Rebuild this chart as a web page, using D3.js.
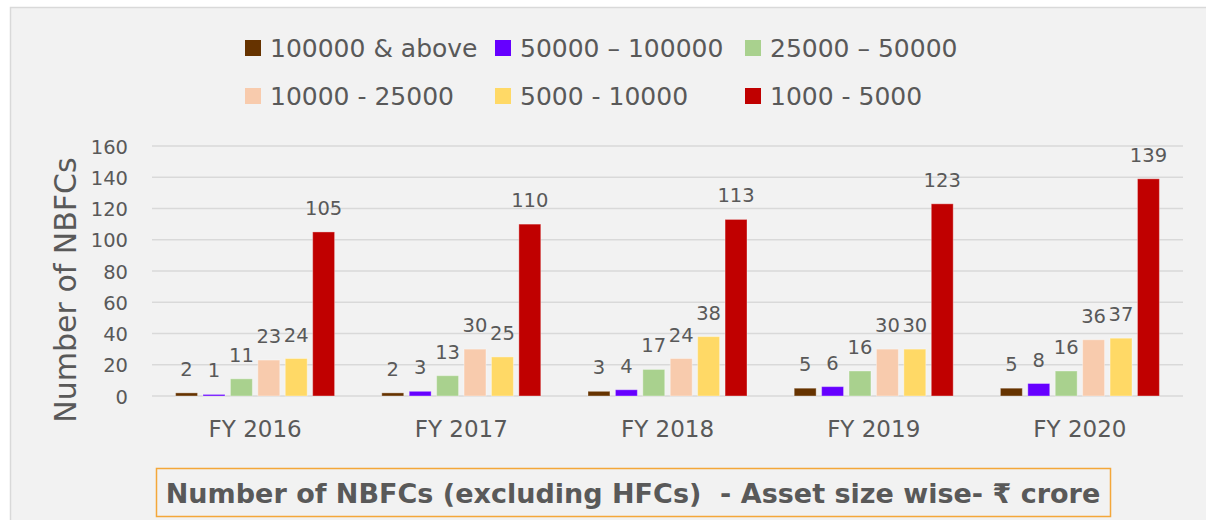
<!DOCTYPE html>
<html><head><meta charset="utf-8">
<script src="https://cdn.jsdelivr.net/npm/d3@7"></script>
<style>
html,body{margin:0;padding:0;background:#fff;}
svg{display:block;}
</style></head>
<body>
<svg id="chart" width="1206" height="520"></svg>
<script>
const categories = ["FY 2016","FY 2017","FY 2018","FY 2019","FY 2020"];
const seriesNames = ["100000 & above","50000 \u2013 100000","25000 \u2013 50000","10000 - 25000","5000 - 10000","1000 - 5000"];
const s100000above = [2,2,3,5,5];
const s50000_100000 = [1,3,4,6,8];
const s25000_50000 = [11,13,17,16,16];
const s10000_25000 = [23,30,24,30,36];
const s5000_10000 = [24,25,38,30,37];
const s1000_5000 = [105,110,113,123,139];
const yTicks = [0,20,40,60,80,100,120,140,160];
const colors = ["#663300","#6600ff","#a9d18e","#f8cbad","#ffd966","#c00000"];
const titleText = "Number of NBFCs (excluding HFCs)  - Asset size wise- \u20b9 crore";
const yTitle = "Number of NBFCs";

const seriesValues = [s100000above,s50000_100000,s25000_50000,s10000_25000,s5000_10000,s1000_5000];
const FONT = "'DejaVu Sans', sans-serif";
const TXT = "#595959";

const svg = d3.select("#chart");
// panel
svg.append("rect").attr("x",10.5).attr("y",7.5).attr("width",1220).attr("height",530)
  .attr("fill","#f2f2f2").attr("stroke","#d9d9d9").attr("stroke-width",1.5);

const plot = {left:152, right:1183, top:146, bottom:396};
const x0 = d3.scaleBand().domain(categories).range([plot.left, plot.right]).padding(0);
const inner = 159;
const x1 = d3.scaleBand().domain(d3.range(6))
  .range([(x0.bandwidth()-inner)/2, (x0.bandwidth()+inner)/2]).paddingInner(0.2).paddingOuter(0);
const y = d3.scaleLinear().domain([0,160]).range([plot.bottom, plot.top]);

// gridlines
svg.append("g").selectAll("line").data(yTicks).join("line")
  .attr("x1",plot.left).attr("x2",plot.right)
  .attr("y1",d=>y(d)).attr("y2",d=>y(d))
  .attr("stroke","#d9d9d9").attr("stroke-width",1.5);

// y axis labels
const yAxis = d3.axisLeft(y).tickValues(yTicks).tickSize(0).tickPadding(0);
const yg = svg.append("g").attr("transform",`translate(${128},0)`).call(yAxis);
yg.select(".domain").remove();
yg.selectAll("text").attr("font-family",FONT).attr("font-size",19.5).attr("fill",TXT).attr("dy","0.36em");

// x axis labels
const xAxis = d3.axisBottom(x0).tickSize(0).tickPadding(0);
const xg = svg.append("g").attr("transform",`translate(0,${420})`).call(xAxis);
xg.select(".domain").remove();
xg.selectAll("text").attr("font-family",FONT).attr("font-size",23).attr("fill",TXT).attr("dy","0.75em");

// y title
svg.append("text").attr("transform",`translate(${76},${290}) rotate(-90)`)
  .attr("text-anchor","middle").attr("font-family",FONT).attr("font-size",30).attr("fill",TXT)
  .text(yTitle);

// bars
const groups = svg.append("g").selectAll("g").data(categories).join("g")
  .attr("transform",d=>`translate(${x0(d)},0)`);
groups.each(function(cat,ci){
  const g = d3.select(this);
  const vals = seriesValues.map((s,si)=>({si, v:s[ci]}));
  g.selectAll("rect").data(vals).join("rect")
    .attr("x",d=>x1(d.si)).attr("width",x1.bandwidth())
    .attr("y",d=>y(d.v)).attr("height",d=>y(0)-y(d.v))
    .attr("fill",d=>colors[d.si])
    .attr("stroke","rgba(255,255,255,0.35)").attr("stroke-width",1);
  g.selectAll("text").data(vals).join("text")
    .attr("x",d=>x1(d.si)+x1.bandwidth()/2).attr("y",d=>y(d.v)-17)
    .attr("text-anchor","middle").attr("font-family",FONT).attr("font-size",19.5).attr("fill",TXT)
    .text(d=>d.v);
});

// legend
const legendPos = [[245,48],[495,48],[745,48],[245,96],[495,96],[745,96]];
const lg = svg.append("g").selectAll("g").data(seriesNames).join("g")
  .attr("transform",(d,i)=>`translate(${legendPos[i][0]},${legendPos[i][1]})`);
lg.append("rect").attr("x",0).attr("y",-8).attr("width",16).attr("height",16).attr("fill",(d,i)=>colors[i]);
lg.append("text").attr("x",25).attr("y",9).attr("font-family",FONT).attr("font-size",25).attr("fill",TXT).text(d=>d);

// title box
svg.append("rect").attr("x",156.5).attr("y",468.5).attr("width",954).attr("height",48)
  .attr("fill","none").attr("stroke","#f4a73a").attr("stroke-width",1.5);
const t = svg.append("text").attr("x",633).attr("y",503).attr("text-anchor","middle")
  .style("white-space","pre")
  .attr("font-family",FONT).attr("font-weight","bold").attr("font-size",26).attr("fill",TXT)
  .text(titleText);
const w = t.node().getComputedTextLength();
t.attr("font-size", 26*935/w);
</script>
</body></html>
